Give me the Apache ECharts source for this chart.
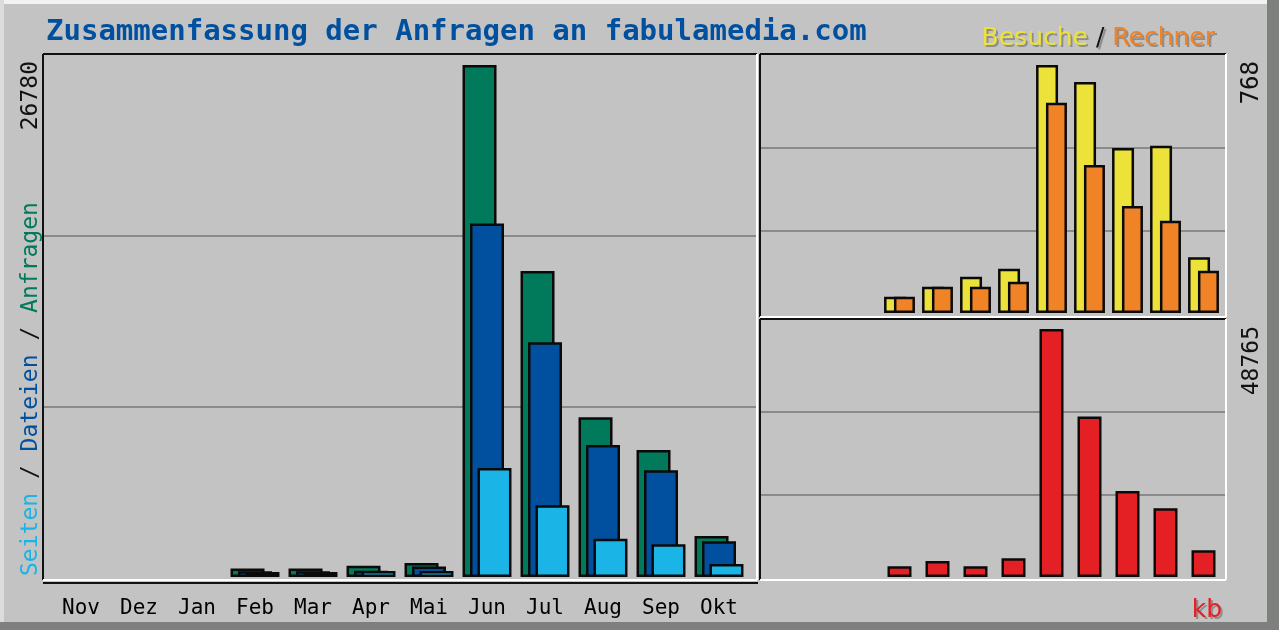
<!DOCTYPE html>
<html>
<head>
<meta charset="utf-8">
<script src="https://cdn.jsdelivr.net/npm/echarts@6/dist/echarts.min.js"></script>
<style>
  html, body { margin: 0; padding: 0; background: #c3c3c3; }
  #chart { width: 1279px; height: 630px; }
</style>
</head>
<body>
<div id="chart"></div>
<script>
// Monate und Werte
var months = ['Nov', 'Dez', 'Jan', 'Feb', 'Mar', 'Apr', 'Mai', 'Jun', 'Jul', 'Aug', 'Sep', 'Okt'];
var anfragen = [0, 0, 0, 450, 440, 590, 730, 26780, 16010, 8350, 6640, 2140];
var dateien = [0, 0, 0, 300, 300, 330, 555, 18490, 12280, 6900, 5590, 1870];
var seiten = [0, 0, 0, 260, 260, 320, 310, 5700, 3750, 2000, 1710, 680];
var besuche = [0, 0, 0, 50, 81, 112, 137, 768, 715, 511, 518, 173];
var rechner = [0, 0, 0, 50, 81, 81, 97, 651, 458, 331, 286, 131];
var kb = [0, 0, 0, 2100, 3150, 2100, 3680, 48765, 31540, 16890, 13540, 5260];
var maxLeft = 26780, maxBesuche = 768, maxKb = 48765;

var mono = '"DejaVu Sans Mono", "Liberation Mono", monospace';
var sans = '"DejaVu Sans", sans-serif';
var gridColor = '#8a8a8a';
var shadowGray = '#8e8e8e';

function noZero(arr) {
    return arr.map(function (v) { return v === 0 ? '-' : v; });
}

function bar(name, data, color, width, gap, idx) {
    return {
        name: name,
        type: 'bar',
        xAxisIndex: idx,
        yAxisIndex: idx,
        data: noZero(data),
        barWidth: width,
        barGap: gap,
        silent: true,
        itemStyle: { color: color, borderColor: '#0a0a0a', borderWidth: 2.5 }
    };
}

function catAxis(idx, showLabel) {
    return {
        type: 'category',
        gridIndex: idx,
        data: months,
        axisLine: { show: false },
        axisTick: { show: false },
        axisLabel: {
            show: showLabel,
            margin: 21,
            fontFamily: mono,
            fontSize: 21,
            color: '#000'
        }
    };
}

function valAxis(idx, max, lines) {
    return {
        type: 'value',
        gridIndex: idx,
        min: 0,
        max: max,
        interval: max / 3,
        axisLine: { show: false },
        axisTick: { show: false },
        axisLabel: { show: false },
        splitLine: {
            show: lines,
            showMinLine: false,
            showMaxLine: false,
            lineStyle: { color: gridColor, width: 2 }
        }
    };
}

function hiddenX(idx) {
    return { type: 'value', gridIndex: idx, min: 0, max: 1, show: false };
}

// Kastenrahmen: oben/links schwarz, unten/rechts weiss
function box(x, y, w, h) {
    return [
        { type: 'line', z: 20, shape: { x1: x, y1: y, x2: x + w, y2: y }, style: { stroke: '#111', lineWidth: 2 } },
        { type: 'line', z: 20, shape: { x1: x, y1: y, x2: x, y2: y + h }, style: { stroke: '#111', lineWidth: 2 } },
        { type: 'line', z: 20, shape: { x1: x + w, y1: y, x2: x + w, y2: y + h }, style: { stroke: '#fff', lineWidth: 2 } },
        { type: 'line', z: 20, shape: { x1: x, y1: y + h, x2: x + w, y2: y + h }, style: { stroke: '#fff', lineWidth: 2 } }
    ];
}

function legendText(shadow) {
    var st = function (c) { return { fontFamily: sans, fontSize: 25, fontWeight: 'normal', color: shadow ? shadowGray : c }; };
    return {
        text: '{y|Besuche }{k|/ }{o|Rechner}',
        right: shadow ? 57 : 59,
        top: shadow ? 23 : 21,
        textStyle: { fontWeight: 'normal', rich: { y: st('#ece23a'), k: st('#111'), o: st('#ef8326') } }
    };
}

var chart = echarts.init(document.getElementById('chart'));

var graphics = [
    { type: 'rect', z: 30, shape: { x: 0, y: 0, width: 1279, height: 4 }, style: { fill: '#f2f2f2' } },
    { type: 'rect', z: 30, shape: { x: 0, y: 0, width: 4, height: 630 }, style: { fill: '#dcdcdc' } },
    { type: 'rect', z: 30, shape: { x: 1267, y: 0, width: 12, height: 630 }, style: { fill: '#7e807e' } },
    { type: 'rect', z: 30, shape: { x: 0, y: 622, width: 1279, height: 8 }, style: { fill: '#7e807e' } },
    { type: 'line', z: 20, shape: { x1: 43, y1: 583, x2: 758, y2: 583 }, style: { stroke: '#111', lineWidth: 2 } },
    {
        type: 'text', z: 25, x: 31, y: 576, rotation: Math.PI / 2,
        style: {
            text: '{s|Seiten }{k|/ }{d|Dateien }{k|/ }{a|Anfragen}',
            align: 'left', verticalAlign: 'middle',
            rich: {
                s: { fontFamily: mono, fontSize: 23, fill: '#1ab4e6' },
                d: { fontFamily: mono, fontSize: 23, fill: '#00509f' },
                a: { fontFamily: mono, fontSize: 23, fill: '#007a5a' },
                k: { fontFamily: mono, fontSize: 23, fill: '#111' }
            }
        }
    },
    {
        type: 'text', z: 25, x: 31, y: 61, rotation: Math.PI / 2,
        style: { text: String(maxLeft), fontFamily: mono, fontSize: 23, fill: '#111', align: 'right', verticalAlign: 'middle' }
    },
    {
        type: 'text', z: 25, x: 1252, y: 61, rotation: Math.PI / 2,
        style: { text: String(maxBesuche), fontFamily: mono, fontSize: 24, fill: '#111', align: 'right', verticalAlign: 'middle' }
    },
    {
        type: 'text', z: 25, x: 1252, y: 326, rotation: Math.PI / 2,
        style: { text: String(maxKb), fontFamily: mono, fontSize: 23, fill: '#111', align: 'right', verticalAlign: 'middle' }
    },
    {
        type: 'text', z: 24, x: 1224, y: 612,
        style: { text: 'kb', fontFamily: sans, fontSize: 25, fill: shadowGray, align: 'right', verticalAlign: 'middle' }
    },
    {
        type: 'text', z: 25, x: 1222, y: 610,
        style: { text: 'kb', fontFamily: sans, fontSize: 25, fill: '#e52025', align: 'right', verticalAlign: 'middle' }
    }
].concat(box(43, 54, 714, 526), box(760, 54, 466, 263), box(760, 319, 466, 261));

var option = {
    backgroundColor: '#c3c3c3',
    animation: false,
    title: [{
        text: 'Zusammenfassung der Anfragen an fabulamedia.com',
        left: 41,
        top: 13,
        textStyle: { fontFamily: mono, fontSize: 29, fontWeight: 'bold', color: '#00509f' }
    }, legendText(true), legendText(false)],
    grid: [
        { left: 52, right: 531, top: 65, bottom: 53 },
        { left: 766.5, right: 56.5, top: 65, bottom: 317 },
        { left: 766.5, right: 56.5, top: 329, bottom: 53 },
        { left: 44, right: 522, top: 65, bottom: 53 },
        { left: 761, right: 53, top: 65, bottom: 317 },
        { left: 761, right: 53, top: 329, bottom: 53 }
    ],
    xAxis: [catAxis(0, true), catAxis(1, false), catAxis(2, false), hiddenX(3), hiddenX(4), hiddenX(5)],
    yAxis: [
        valAxis(0, maxLeft, false), valAxis(1, maxBesuche, false), valAxis(2, maxKb, false),
        valAxis(3, maxLeft, true), valAxis(4, maxBesuche, true), valAxis(5, maxKb, true)
    ],
    series: [
        bar('Anfragen', anfragen, '#007a5a', 34, '-78%', 0),
        bar('Dateien', dateien, '#00509f', 34, '-78%', 0),
        bar('Seiten', seiten, '#1ab4e6', 34, '-78%', 0),
        bar('Besuche', besuche, '#ece23a', 22, '-55%', 1),
        bar('Rechner', rechner, '#ef8326', 21, '-55%', 1),
        bar('kb', kb, '#e52025', 24, '0%', 2)
    ],
    graphic: graphics
};
chart.setOption(option);
</script>
</body>
</html>
